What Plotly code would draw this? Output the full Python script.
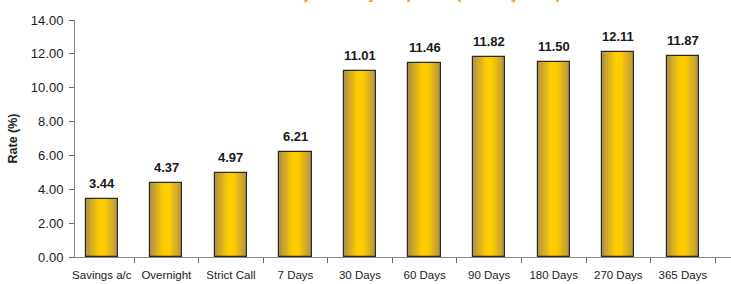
import plotly.graph_objects as go

categories = ["Savings a/c", "Overnight", "Strict Call", "7 Days", "30 Days",
              "60 Days", "90 Days", "180 Days", "270 Days", "365 Days"]
rates = [3.44, 4.37, 4.97, 6.21, 11.01, 11.46, 11.82, 11.50, 12.11, 11.87]
y_ticks = [0, 2, 4, 6, 8, 10, 12, 14]
title_text = "Money Market yield profile (January 2011)"

FONT = "Liberation Sans, Arial, sans-serif"

fig = go.Figure()

# gradient emulation: overlaid bars of decreasing width
edge = (176, 146, 66)
mid = (255, 204, 0)
steps = 10
base_w = 0.5
for k in range(steps):
    t = k / (steps - 1)
    t2 = t ** 0.9
    col = tuple(int(round(edge[j] + (mid[j] - edge[j]) * t2)) for j in range(3))
    w = base_w * (1 - 0.8 * t)
    fig.add_trace(go.Bar(
        x=categories, y=rates, width=w,
        marker=dict(color="rgb(%d,%d,%d)" % col, line=dict(width=0)),
        hoverinfo="skip", showlegend=False,
    ))

# outline
fig.add_trace(go.Bar(
    x=categories, y=rates, width=base_w,
    marker=dict(color="rgba(0,0,0,0)", line=dict(color="#2a2a2a", width=1.2)),
    showlegend=False,
))

for c, v in zip(categories, rates):
    fig.add_annotation(
        x=c, y=v, text="%.2f" % v, showarrow=False,
        xanchor="center", yanchor="bottom", yshift=6,
        font=dict(family=FONT, size=13, color="#1a1a1a", weight="bold"),
    )

fig.add_annotation(
    text=title_text, xref="paper", yref="paper", x=(262 - 75) / 656, y=1.066,
    xanchor="left", yanchor="bottom", showarrow=False,
    font=dict(family=FONT, size=15, color="#F7941D", weight="bold"),
)

fig.update_layout(
    width=731, height=284,
    margin=dict(l=75, r=0, t=20, b=27, autoexpand=False),
    paper_bgcolor="white", plot_bgcolor="white",
    barmode="overlay", bargap=0,
    font=dict(family=FONT, color="#222"),
    xaxis=dict(
        type="category", range=[-0.415, 9.746], automargin=False,
        showline=True, linecolor="#888", linewidth=1,
        ticks="outside", tickson="boundaries", ticklen=5, tickcolor="#666",
        tickangle=0, ticklabelstandoff=7,
        tickfont=dict(family=FONT, size=11.5, color="#222"),
        showgrid=False, zeroline=False,
    ),
    yaxis=dict(
        range=[0, 14], tickvals=y_ticks, tickformat=".2f", automargin=False,
        showline=True, linecolor="#888", linewidth=1,
        ticks="outside", ticklen=5, tickcolor="#666",
        ticklabelstandoff=3,
        tickfont=dict(family=FONT, size=13, color="#222"),
        showgrid=False, zeroline=False,
        title=dict(text="Rate (%)", font=dict(family=FONT, size=12.5, color="#222", weight="bold"), standoff=10),
    ),
)

fig.write_html("out.html", config={"displayModeBar": False},
               post_script="document.body.style.margin='0px';")
